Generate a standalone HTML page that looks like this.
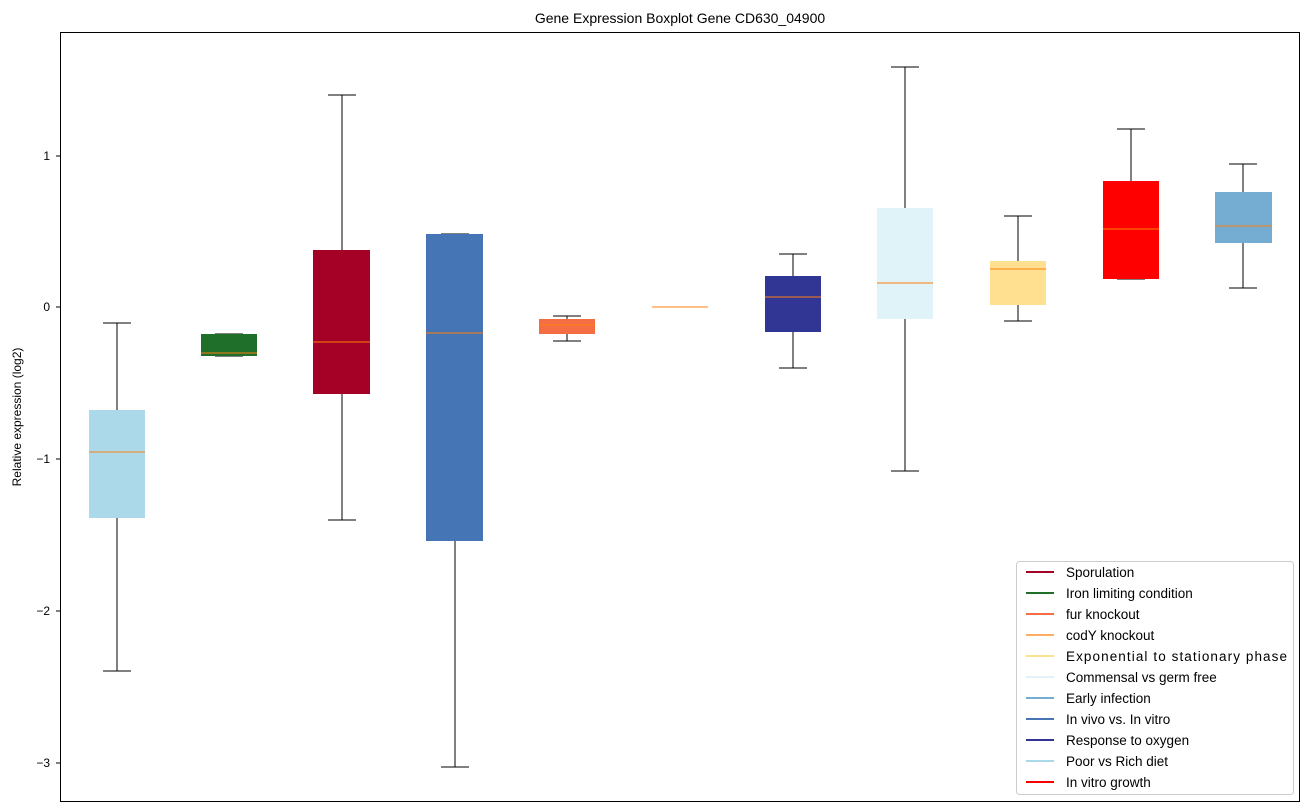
<!DOCTYPE html>
<html><head><meta charset="utf-8"><style>body{margin:0;background:#fff}svg{display:block;font-family:"Liberation Sans","DejaVu Sans",sans-serif}</style></head>
<body>
<svg width="1309" height="812" xmlns="http://www.w3.org/2000/svg">
<rect width="1309" height="812" fill="#fff"/>
<text x="680" y="23" font-size="14" text-anchor="middle">Gene Expression Boxplot Gene CD630_04900</text>
<g stroke="#000" stroke-width="1" fill="none" shape-rendering="crispEdges">
<path d="M117 323V410M117 518V671M103 323H131M103 671H131"/>
<path d="M215 334H243M215 356H243"/>
<path d="M342 95V250M342 394V520M328 95H356M328 520H356"/>
<path d="M455 541V767M441 234H469M441 767H469"/>
<path d="M567 316V319M567 334V341M553 316H581M553 341H581"/>
<path d="M666 307H694"/>
<path d="M793 254V276M793 332V368M779 254H807M779 368H807"/>
<path d="M905 67V208M905 319V471M891 67H919M891 471H919"/>
<path d="M1018 216V261M1018 305V321M1004 216H1032M1004 321H1032"/>
<path d="M1131 129V181M1117 129H1145M1117 279H1145"/>
<path d="M1243 164V192M1243 243V288M1229 164H1257M1229 288H1257"/>
</g>
<g shape-rendering="crispEdges">
<rect x="89" y="410" width="56" height="108" fill="#abd9e9"/>
<rect x="201" y="334" width="56" height="22" fill="#1f6e2a"/>
<rect x="313" y="250" width="57" height="144" fill="#a50026"/>
<rect x="426" y="234" width="57" height="307" fill="#4575b4"/>
<rect x="539" y="319" width="56" height="15" fill="#f46d43"/>
<rect x="765" y="276" width="56" height="56" fill="#313695"/>
<rect x="877" y="208" width="56" height="111" fill="#e0f3f8"/>
<rect x="990" y="261" width="56" height="44" fill="#fee090"/>
<rect x="1103" y="181" width="56" height="98" fill="#ff0000"/>
<rect x="1215" y="192" width="57" height="51" fill="#74add1"/>
</g>
<g stroke="#ff7f0e" stroke-width="1" shape-rendering="crispEdges">
<path d="M89 452H145M201 353H257M313 342H370M426 333H483M539 325H595M652 307H708M765 297H821M877 283H933M990 269H1046M1103 229H1159M1215 226H1272"/>
</g>
<rect x="60.5" y="32.5" width="1239" height="769" fill="none" stroke="#000"/>
<g font-size="12" text-anchor="end">
<path d="M56 156H60M56 307H60M56 459H60M56 611H60M56 763H60" stroke="#000"/>
<text x="50" y="160">1</text><text x="50" y="311">0</text><text x="50" y="463">−1</text><text x="50" y="615">−2</text><text x="50" y="767">−3</text>
</g>
<text transform="translate(21 417) rotate(-90)" font-size="12" text-anchor="middle">Relative expression (log2)</text>
<rect x="1016.5" y="561.5" width="277" height="233" rx="3" fill="#fff" stroke="#ccc"/>
<g font-size="13.5" stroke-width="2">
<line x1="1026" x2="1054" y1="572" y2="572" stroke="#a50026"/><text x="1066" y="577">Sporulation</text>
<line x1="1026" x2="1054" y1="593" y2="593" stroke="#1f6e2a"/><text x="1066" y="598">Iron limiting condition</text>
<line x1="1026" x2="1054" y1="614" y2="614" stroke="#f46d43"/><text x="1066" y="619">fur knockout</text>
<line x1="1026" x2="1054" y1="635" y2="635" stroke="#fdae61"/><text x="1066" y="640">codY knockout</text>
<line x1="1026" x2="1054" y1="656" y2="656" stroke="#fee090"/><text x="1066" y="661" textLength="221">Exponential to stationary phase</text>
<line x1="1026" x2="1054" y1="677" y2="677" stroke="#e0f3f8"/><text x="1066" y="682">Commensal vs germ free</text>
<line x1="1026" x2="1054" y1="698" y2="698" stroke="#74add1"/><text x="1066" y="703">Early infection</text>
<line x1="1026" x2="1054" y1="719" y2="719" stroke="#4575b4"/><text x="1066" y="724">In vivo vs. In vitro</text>
<line x1="1026" x2="1054" y1="740" y2="740" stroke="#313695"/><text x="1066" y="745">Response to oxygen</text>
<line x1="1026" x2="1054" y1="761" y2="761" stroke="#abd9e9"/><text x="1066" y="766">Poor vs Rich diet</text>
<line x1="1026" x2="1054" y1="782" y2="782" stroke="#ff0000"/><text x="1066" y="787">In vitro growth</text>
</g>
</svg>
</body></html>
